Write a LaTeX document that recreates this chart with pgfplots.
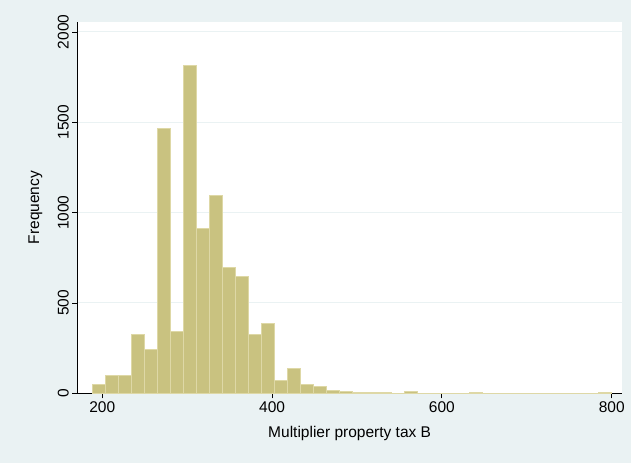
\documentclass[border=0pt]{standalone}
\usepackage{fontspec}
\setmainfont{Liberation Sans}
\usepackage{pgfplots}
\pgfplotsset{compat=1.18}
\definecolor{bgc}{RGB}{234,242,243}
\definecolor{barfill}{RGB}{201,194,128}
\definecolor{baredge}{RGB}{222,216,166}
\begin{document}
\begin{tikzpicture}[x=1pt,y=1pt]
\fill[bgc] (0,0) rectangle (631,463);
\useasboundingbox (0,0) rectangle (631,463);
\begin{axis}[
  at={(77.3pt,69.7pt)}, anchor=south west,
  scale only axis, width=544.7pt, height=371.6pt,
  xmin=170.6, xmax=812.1, ymin=0, ymax=2057,
  axis background/.style={fill=white},
  axis x line*=bottom, axis y line*=left,
  axis line style={-, black, line width=0.9pt},
  xtick={200,400,600,800}, ytick={0,500,1000,1500,2000},
  minor tick num=0,
  tick align=outside, major tick length=5pt,
  tick style={black, line width=0.9pt},
  ymajorgrids, grid style={bgc, line width=1pt},
  /pgf/number format/assume math mode=true,
  /pgf/number format/1000 sep={},
  tick label style={font=\fontsize{15.5}{18}\selectfont},
  yticklabel style={rotate=90, anchor=south},
  xticklabel style={anchor=north},
  xlabel={Multiplier property tax B}, ylabel={Frequency},
  every axis x label/.style={at={(axis description cs:0.5,0)}, yshift=-40pt, anchor=center, font=\fontsize{15.5}{18}\selectfont},
  every axis y label/.style={at={(axis description cs:0,0.5)}, xshift=-42pt, rotate=90, anchor=center, font=\fontsize{15.5}{18}\selectfont},
]
\addplot[ybar interval, fill=barfill, draw=baredge, line width=1pt] coordinates {
(189.0,46) (204.3,100) (219.6,96) (234.8,323) (250.1,240) (265.4,1465)
(280.7,340) (295.9,1814) (311.2,913) (326.5,1096) (341.8,697) (357.0,649)
(372.3,327) (387.6,386) (402.9,70) (418.1,140) (433.4,50) (448.7,39)
(464.0,16) (479.2,10) (494.5,5) (509.8,4) (525.1,4) (540.3,0)
(555.6,10) (570.9,0) (586.2,0) (601.4,0) (616.7,0) (632.0,7)
(647.3,0) (662.5,0) (677.8,0) (693.1,0) (708.4,0) (723.6,0)
(738.9,0) (754.2,0) (769.5,0) (784.7,7) (800.0,7)
};
\end{axis}
\end{tikzpicture}
\end{document}
